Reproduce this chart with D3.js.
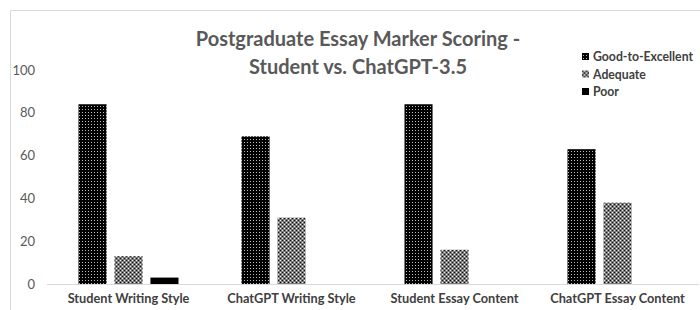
<!DOCTYPE html>
<html>
<head>
<meta charset="utf-8">
<script src="https://cdn.jsdelivr.net/npm/d3@7"></script>
<style>
  body { margin: 0; background: #fff; }
  text { font-family: Lato, "Open Sans", sans-serif; }
</style>
</head>
<body>
<script>
// chart values
let Categories = ["Student Writing Style", "ChatGPT Writing Style", "Student Essay Content", "ChatGPT Essay Content"];
let SeriesNames = ["Good-to-Excellent", "Adequate", "Poor"];
let GoodValues = [84, 69, 84, 63];
let AdequateValues = [13, 31, 16, 38];
let PoorValues = [3, 0, 0, 0];
let YTicks = [0, 20, 40, 60, 80, 100];

let SvgWidth = 700;
let SvgHeight = 310;

let Svg = d3.select("body")
    .append("svg")
    .attr("width", SvgWidth)
    .attr("height", SvgHeight)

// shrink font of 'target' until 'measure' fits the width seen in the original
function fitWidth(target, measure, w) {
    let fs = parseFloat(target.style("font-size"));
    while (measure.node().getComputedTextLength() > w && fs > 8) {
        fs -= 0.25;
        target.style("font-size", fs + "px");
    }
}

// fill patterns
let Defs = Svg.append("defs");

let GoodPat = Defs.append("pattern")
    .attr("id", "patGood")
    .attr("patternUnits", "userSpaceOnUse")
    .attr("width", 3).attr("height", 3)
GoodPat.append("rect").attr("width", 3).attr("height", 3).attr("fill", "#000")
GoodPat.append("rect").attr("x", 1).attr("y", 1).attr("width", 1).attr("height", 1).attr("fill", "#bbb")

let AdqPat = Defs.append("pattern")
    .attr("id", "patAdequate")
    .attr("patternUnits", "userSpaceOnUse")
    .attr("width", 4).attr("height", 4)
AdqPat.append("rect").attr("width", 4).attr("height", 4).attr("fill", "#7a7a7a")
AdqPat.append("rect").attr("x", 0).attr("y", 0).attr("width", 1).attr("height", 1).attr("fill", "#f0f0f0")
AdqPat.append("rect").attr("x", 2).attr("y", 2).attr("width", 1).attr("height", 1).attr("fill", "#f0f0f0")
AdqPat.append("rect").attr("x", 2).attr("y", 0).attr("width", 1).attr("height", 1).attr("fill", "#111")
AdqPat.append("rect").attr("x", 0).attr("y", 2).attr("width", 1).attr("height", 1).attr("fill", "#111")

let Fills = ["url(#patGood)", "url(#patAdequate)", "#000"];

// chart frame (cut off at right/bottom like the original)
Svg.append("path")
    .attr("d", "M10.5,310 V10.5 H700")
    .attr("fill", "none")
    .attr("stroke", "#d9d9d9")
    .attr("stroke-width", 1)

let x0 = d3.scaleBand()
    .domain(Categories)
    .range([47, 699])
    .padding(0);

let x1 = d3.scaleBand()
    .domain(SeriesNames)
    .range([x0.bandwidth() / 2 - 50, x0.bandwidth() / 2 + 50])
    .paddingInner(0.22)
    .paddingOuter(0);

let y = d3.scaleLinear()
    .domain([0, 100])
    .range([284, 70]);

// y labels (no axis line, no ticks)
let LeftAxis = d3.axisLeft(y).tickValues(YTicks).tickSize(0).tickPadding(0);
let YAxisG = Svg.append("g")
    .attr("transform", "translate(35,0)")
    .call(LeftAxis)
YAxisG.select(".domain").remove()
YAxisG.selectAll("text")
    .attr("fill", "#595959")
    .style("font-size", "13px")
    .style("font-family", "Lato, sans-serif")

// baseline
Svg.append("line")
    .attr("x1", 47).attr("x2", 699)
    .attr("y1", y(0) + 0.5).attr("y2", y(0) + 0.5)
    .attr("stroke", "#d9d9d9")
    .attr("stroke-width", 1)

// bars
let SeriesData = [GoodValues, AdequateValues, PoorValues];
SeriesData.forEach(function (vals, si) {
    Svg.append("g")
        .selectAll("rect")
        .data(Categories.map((c, i) => ({ cat: c, v: vals[i] })).filter(d => d.v > 0))
        .enter()
        .append("rect")
        .attr("x", d => x0(d.cat) + x1(SeriesNames[si]))
        .attr("y", d => y(d.v))
        .attr("width", x1.bandwidth())
        .attr("height", d => y(0) - y(d.v))
        .attr("fill", Fills[si])
})

// category labels
let BottomAxis = d3.axisBottom(x0).tickSize(0).tickPadding(0);
let XAxisG = Svg.append("g")
    .attr("transform", "translate(0,292)")
    .call(BottomAxis)
XAxisG.select(".domain").remove()
XAxisG.selectAll("text")
    .attr("fill", "#404040")
    .attr("dy", "0.85em")
    .style("font-size", "13.5px")
    .style("font-weight", "bold")
    .style("font-family", "Lato, sans-serif")
let FirstCat = XAxisG.select(".tick text");
fitWidth(FirstCat, FirstCat, 123)
XAxisG.selectAll("text").style("font-size", FirstCat.style("font-size"))

// title
let Title = Svg.append("text")
    .attr("x", 358)
    .attr("y", 46)
    .attr("text-anchor", "middle")
    .attr("fill", "#595959")
    .style("font-size", "22px")
    .style("font-weight", "bold")
let TitleLine1 = Title.append("tspan").attr("x", 358).text("Postgraduate Essay Marker Scoring -")
Title.append("tspan").attr("x", 358).attr("dy", 28).text("Student vs. ChatGPT-3.5")
fitWidth(Title, TitleLine1, 328)

// legend
let Legend = Svg.append("g")
    .attr("transform", "translate(582,51)")
SeriesNames.forEach(function (name, i) {
    let row = Legend.append("g").attr("transform", `translate(0,${i * 17.5})`)
    row.append("rect")
        .attr("width", 7).attr("height", 7)
        .attr("y", 2)
        .attr("fill", Fills[i])
    row.append("text")
        .attr("x", 11)
        .attr("y", 10)
        .attr("fill", "#404040")
        .style("font-size", "13px")
        .style("font-weight", "bold")
        .text(name)
})
let FirstLeg = Legend.select("text");
fitWidth(FirstLeg, FirstLeg, 102)
Legend.selectAll("text").style("font-size", FirstLeg.style("font-size"))
</script>
</body>
</html>
